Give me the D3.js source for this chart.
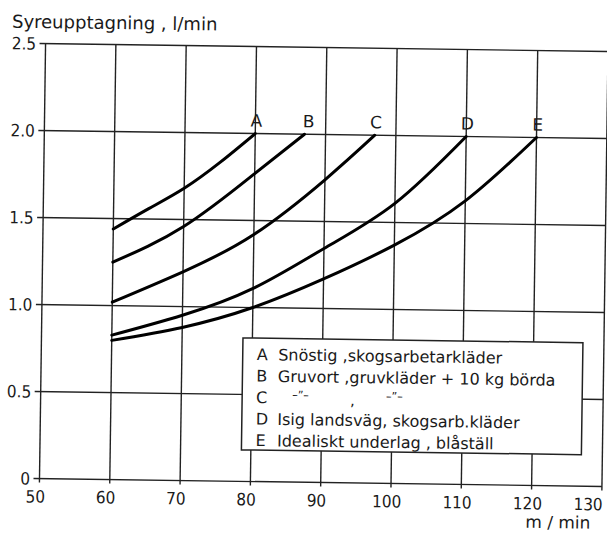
<!DOCTYPE html>
<html>
<head>
<meta charset="utf-8" />
<title>Syreupptagning</title>
<script src="https://d3js.org/d3.v7.min.js"></script>
<style>
body { margin: 0; background: #fff; }
svg { display: block; background: #fff; }
text { fill: #1a1a1a; font-family: "DejaVu Sans", sans-serif; }
.tick-label { font-family: "DejaVu Sans Condensed", "DejaVu Sans", sans-serif; font-size: 17px; }
.grid line { stroke: #222; stroke-width: 1.4px; }
.curve { fill: none; stroke: #000; stroke-width: 3px; stroke-linecap: round; }
.legend-box { fill: #fff; stroke: #222; stroke-width: 1.5px; }
</style>
</head>
<body>
<div id="chart"></div>
<script>
/* values */
var speedTicks = [50, 60, 70, 80, 90, 100, 110, 120, 130];
var oxygenTicks = [0, 0.5, 1.0, 1.5, 2.0, 2.5];
var oxygenLabels = ["0", "0.5", "1.0", "1.5", "2.0", "2.5"];

var speedA = [60, 65, 70, 75, 80];
var oxygenA = [1.44, 1.56, 1.68, 1.83, 2.0];
var speedB = [60, 70, 80, 87];
var oxygenB = [1.25, 1.46, 1.77, 2.0];
var speedC = [60, 70, 80, 90, 97];
var oxygenC = [1.02, 1.20, 1.42, 1.74, 2.0];
var speedD = [60, 70, 80, 90, 100, 110];
var oxygenD = [0.83, 0.95, 1.11, 1.345, 1.61, 2.0];
var speedE = [60, 70, 80, 90, 100, 110, 120];
var oxygenE = [0.80, 0.88, 1.0, 1.17, 1.37, 1.63, 2.0];

var curveNames = ["A", "B", "C", "D", "E"];
var legendTexts = [
    "Snöstig ,skogsarbetarkläder",
    "Gruvort ,gruvkläder + 10 kg börda",
    null,
    "Isig landsväg, skogsarb.kläder",
    "Idealiskt underlag , blåställ"
];

var width = 607, height = 535;

var x = d3.scaleLinear().domain([50, 130]).range([42.5, 605]);
var y = d3.scaleLinear().domain([0, 2.5]).range([482.5, 47.5]);

var svg = d3.select("#chart").append("svg")
    .attr("width", width)
    .attr("height", height);

/* the scan is tilted a little clockwise */
var g = svg.append("g").attr("transform", "rotate(0.8, 322, 265)");

/* grid */
var grid = g.append("g").attr("class", "grid");
grid.selectAll(".v").data(speedTicks).enter().append("line")
    .attr("class", "v")
    .attr("x1", function(d) { return x(d); })
    .attr("x2", function(d) { return x(d); })
    .attr("y1", y(2.5))
    .attr("y2", y(0) + 4);
grid.selectAll(".h").data(oxygenTicks).enter().append("line")
    .attr("class", "h")
    .attr("x1", x(50) - 6)
    .attr("x2", x(130))
    .attr("y1", function(d) { return y(d); })
    .attr("y2", function(d) { return y(d); });

/* axis labels */
g.selectAll(".ylab").data(oxygenTicks).enter().append("text")
    .attr("class", "tick-label")
    .attr("x", 33)
    .attr("y", function(d) { return y(d); })
    .attr("dy", "0.36em")
    .attr("text-anchor", "end")
    .text(function(d, i) { return oxygenLabels[i]; });

var last = speedTicks.length - 1;
g.selectAll(".xlab").data(speedTicks).enter().append("text")
    .attr("class", "tick-label")
    .attr("x", function(d, i) { return i == last ? x(d) + 1 : x(d) - 4; })
    .attr("y", y(0) + 24)
    .attr("text-anchor", function(d, i) { return i == last ? "end" : "middle"; })
    .text(function(d) { return d; });

g.append("text")
    .attr("x", 8.7).attr("y", 32)
    .style("font-size", "18px")
    .text("Syreupptagning , l/min");

g.append("text")
    .attr("x", 594).attr("y", 525)
    .attr("text-anchor", "end")
    .style("font-size", "17px")
    .text("m / min");

/* curves */
var line = d3.line()
    .x(function(d) { return x(d[0]); })
    .y(function(d) { return y(d[1]); })
    .curve(d3.curveNatural);

var curves = [
    d3.zip(speedA, oxygenA),
    d3.zip(speedB, oxygenB),
    d3.zip(speedC, oxygenC),
    d3.zip(speedD, oxygenD),
    d3.zip(speedE, oxygenE)
];

g.selectAll(".curve").data(curves).enter().append("path")
    .attr("class", "curve")
    .attr("d", line);

g.selectAll(".curve-name").data(curves).enter().append("text")
    .attr("x", function(d, i) { return x(d[d.length - 1][0]) + (i == 1 ? 4 : 1); })
    .attr("y", function(d) { return y(d[d.length - 1][1]) - 7; })
    .attr("text-anchor", "middle")
    .style("font-size", "17px")
    .text(function(d, i) { return curveNames[i]; });

/* legend */
var legend = g.append("g");
legend.append("rect")
    .attr("class", "legend-box")
    .attr("x", 244).attr("y", 339)
    .attr("width", 340).attr("height", 112);

var rowY = d3.scaleLinear().domain([0, 4]).range([361, 447]);

legend.selectAll(".leg-letter").data(curveNames).enter().append("text")
    .attr("x", 258)
    .attr("y", function(d, i) { return rowY(i); })
    .style("font-size", "16px")
    .text(function(d) { return d; });

legend.selectAll(".leg-text").data(legendTexts).enter().append("text")
    .attr("x", 279.5)
    .attr("y", function(d, i) { return rowY(i); })
    .style("font-size", "16px")
    .text(function(d) { return d; });

/* ditto row for C */
var ditto = legend.append("g").style("font-size", "11px");
ditto.append("text").attr("x", 294).attr("y", rowY(2) - 5).text("\u2013\u201D\u2013");
ditto.append("text").attr("x", 352).attr("y", rowY(2) + 1).style("font-size", "15px").text(",");
ditto.append("text").attr("x", 388).attr("y", rowY(2) - 5).text("\u2013\u201D\u2013");
</script>
</body>
</html>
